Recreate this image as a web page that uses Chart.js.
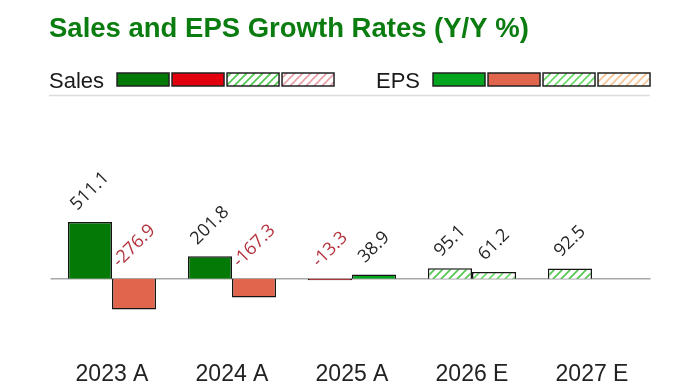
<!DOCTYPE html>
<html>
<head>
<meta charset="utf-8">
<script src="https://cdn.jsdelivr.net/npm/chart.js@4.4.1/dist/chart.umd.min.js"></script>
<style>
  body { margin: 0; background: #fff; }
  canvas { display: block; }
</style>
</head>
<body>
<canvas id="growthChart" width="700" height="387"></canvas>
<script>
// values
const years = ['2023 A', '2024 A', '2025 A', '2026 E', '2027 E'];
const salesGrowth = [511.1, 201.8, -13.3, 95.1, 92.5];
const epsGrowth = [-276.9, -167.3, 38.9, 61.2, null];

const TITLE = 'Sales and EPS Growth Rates (Y/Y %)';

// hatch fill for the estimate bars
const makeHatch = (lineColor) => {
  const c = document.createElement('canvas');
  c.width = 8; c.height = 8;
  const g = c.getContext('2d');
  g.fillStyle = '#fff';
  g.fillRect(0, 0, 8, 8);
  g.strokeStyle = lineColor;
  g.lineWidth = 1.6;
  g.beginPath();
  g.moveTo(-2, 10); g.lineTo(10, -2);
  g.moveTo(-2, 2); g.lineTo(2, -2);
  g.moveTo(6, 10); g.lineTo(10, 6);
  g.stroke();
  return g.createPattern(c, 'repeat');
};

const salesColors = {
  up: '#037a05', down: '#e2000f',
  upEst: makeHatch('#4cc94c'), downEst: makeHatch('#e8a0a8')
};
const epsColors = {
  up: '#02a51e', down: '#e0654c',
  upEst: makeHatch('#66d966'), downEst: makeHatch('#f6c292')
};

const isEstimate = (i) => years[i].trim().endsWith('E');
const pickColors = (values, set) => values.map((v, i) => {
  const neg = v !== null && v < 0;
  if (isEstimate(i)) return neg ? set.downEst : set.upEst;
  return neg ? set.down : set.up;
});

// title + legend strip on top
const headerPlugin = {
  id: 'header',
  afterDraw(chart) {
    const ctx = chart.ctx;
    ctx.save();
    ctx.fillStyle = '#0b7d10';
    ctx.font = 'bold 27.5px "Liberation Sans", Arial, sans-serif';
    ctx.textBaseline = 'alphabetic';
    ctx.fillText(TITLE, 49, 37);

    const groups = [
      { label: 'Sales', x: 49, set: salesColors },
      { label: 'EPS', x: 376, set: epsColors }
    ];
    ctx.font = '22px "Liberation Sans", Arial, sans-serif';
    groups.forEach(gr => {
      ctx.fillStyle = '#1a1a1a';
      ctx.fillText(gr.label, gr.x, 88);
      let bx = gr.x + ctx.measureText(gr.label).width + 13;
      [gr.set.up, gr.set.down, gr.set.upEst, gr.set.downEst].forEach(fill => {
        ctx.fillStyle = fill;
        ctx.fillRect(bx, 73, 52, 13);
        ctx.strokeStyle = '#222';
        ctx.lineWidth = 1.5;
        ctx.strokeRect(bx, 73, 52, 13);
        bx += 55;
      });
    });

    ctx.strokeStyle = '#dcdcdc';
    ctx.lineWidth = 1.5;
    ctx.beginPath();
    ctx.moveTo(49, 95.5);
    ctx.lineTo(650, 95.5);
    ctx.stroke();
    ctx.restore();
  }
};

const zeroLinePlugin = {
  id: 'zeroLine',
  beforeDatasetsDraw(chart) {
    const { ctx, chartArea, scales } = chart;
    const y0 = scales.y.getPixelForValue(0);
    ctx.save();
    ctx.strokeStyle = '#a8a8a8';
    ctx.lineWidth = 1.5;
    ctx.beginPath();
    ctx.moveTo(chartArea.left - 1.5, y0);
    ctx.lineTo(chartArea.right - 1.5, y0);
    ctx.stroke();
    ctx.restore();
  }
};

// rotated value labels above each bar
const valueLabels = {
  id: 'valueLabels',
  afterDatasetsDraw(chart) {
    const ctx = chart.ctx;
    const y0 = chart.scales.y.getPixelForValue(0);
    ctx.save();
    ctx.font = '18px "Open Sans", "DejaVu Sans", sans-serif';
    chart.data.datasets.forEach((ds, di) => {
      chart.getDatasetMeta(di).data.forEach((bar, i) => {
        const v = ds.data[i];
        if (v === null || v === undefined) return;
        const txt = v.toFixed(1);
        const w = ctx.measureText(txt).width;
        const ext = (w + 13) / Math.SQRT2;
        const base = v >= 0 ? bar.y : y0;
        ctx.save();
        ctx.translate(bar.x, base - 10 - ext / 2);
        ctx.rotate(-Math.PI / 4);
        ctx.textAlign = 'center';
        ctx.textBaseline = 'middle';
        ctx.fillStyle = v >= 0 ? '#262626' : '#b3323c';
        ctx.fillText(txt, 0, 0);
        ctx.restore();
      });
    });
    ctx.restore();
  }
};

const ctx = document.getElementById('growthChart').getContext('2d');
new Chart(ctx, {
  type: 'bar',
  data: {
    labels: years,
    datasets: [
      {
        label: 'Sales',
        data: salesGrowth,
        backgroundColor: pickColors(salesGrowth, salesColors),
        borderColor: '#151515',
        borderWidth: 1.5
      },
      {
        label: 'EPS',
        data: epsGrowth,
        backgroundColor: pickColors(epsGrowth, epsColors),
        borderColor: '#151515',
        borderWidth: 1.5
      }
    ]
  },
  options: {
    responsive: false,
    animation: false,
    layout: { padding: { top: 120, left: 52, right: 48, bottom: -9 } },
    datasets: {
      bar: { categoryPercentage: 0.735, barPercentage: 1.0 }
    },
    plugins: {
      legend: { display: false },
      title: { display: false },
      tooltip: { enabled: false }
    },
    scales: {
      x: {
        grid: { display: false },
        border: { display: false },
        ticks: {
          color: '#222',
          padding: 8,
          font: { family: '"Liberation Sans", Arial, sans-serif', size: 23 }
        }
      },
      y: {
        display: false,
        min: -590,
        max: 1428
      }
    }
  },
  plugins: [headerPlugin, zeroLinePlugin, valueLabels]
});
</script>
</body>
</html>
